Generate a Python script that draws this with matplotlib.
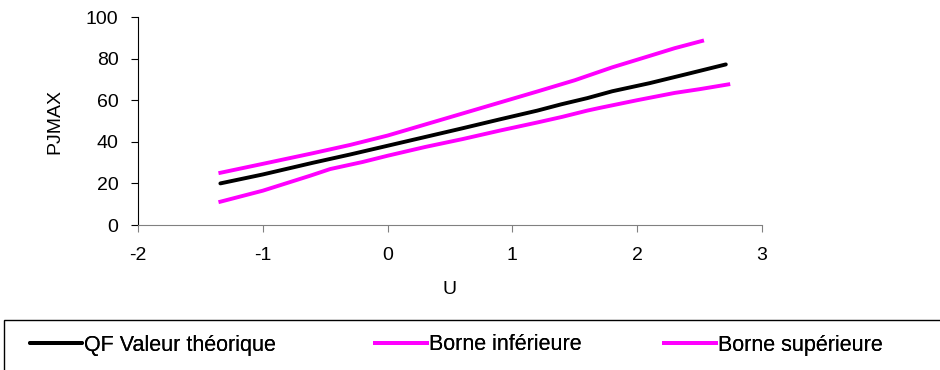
import matplotlib
matplotlib.use("Agg")
import matplotlib.pyplot as plt
from matplotlib.patches import Rectangle

plt.rcParams['font.family'] = ['Liberation Sans', 'DejaVu Sans']
plt.rcParams['axes.unicode_minus'] = False

# variable réduite U et quantiles
u_theo = [-1.34, -1.0, -0.6, -0.3, 0.0, 0.3, 0.6, 0.9, 1.2, 1.39, 1.6, 1.8, 2.1, 2.4, 2.71]
qf_theo = [20.0, 24.3, 29.9, 33.9, 38.1, 42.3, 46.5, 50.8, 55.0, 58.0, 61.0, 64.3, 68.2, 72.6, 77.2]

u_inf = [-1.34, -1.0, -0.62, -0.46, -0.2, 0.0, 0.3, 0.6, 0.9, 1.2, 1.4, 1.6, 1.7, 2.0, 2.3, 2.5, 2.73]
borne_inf = [11.2, 16.5, 23.7, 26.9, 30.3, 33.3, 37.5, 41.3, 45.4, 49.3, 52.0, 55.0, 56.3, 60.0, 63.5, 65.3, 67.6]

u_sup = [-1.34, -1.0, -0.6, -0.3, 0.0, 0.3, 0.6, 0.9, 1.2, 1.5, 1.8, 2.1, 2.3, 2.52]
borne_sup = [25.1, 29.4, 34.5, 38.5, 43.0, 48.3, 53.6, 58.9, 64.2, 69.6, 75.8, 81.3, 85.0, 88.5]

fig = plt.figure(figsize=(9.4, 3.7), dpi=100)
ax = fig.add_axes([138 / 940, 1 - 225 / 370, 624 / 940, 208 / 370])

l1, = ax.plot(u_theo, qf_theo, color='black', lw=2.8, label='QF Valeur théorique', solid_capstyle='round')
l2, = ax.plot(u_inf, borne_inf, color='#FF00FF', lw=2.8, label='Borne inférieure')
l3, = ax.plot(u_sup, borne_sup, color='#FF00FF', lw=2.8, label='Borne supérieure')

ax.set_xlim(-2, 3)
ax.set_ylim(0, 100)
ax.set_xticks([-2, -1, 0, 1, 2, 3])
ax.set_yticks([0, 20, 40, 60, 80, 100])
ax.spines['top'].set_visible(False)
ax.spines['right'].set_visible(False)
ax.spines['bottom'].set_color('#808080')
ax.spines['left'].set_color('black')
ax.tick_params(axis='x', direction='out', length=5, pad=11, labelsize=14, color='#808080')
ax.tick_params(axis='y', direction='out', length=5, pad=9, labelsize=14)
ax.set_xlabel('U', fontsize=14, labelpad=12)
ax.set_ylabel('PJMAX', fontsize=14, labelpad=16)

# cadre de la légende
fig.add_artist(Rectangle((4 / 940, -0.05), 1.0, (370 - 320) / 370 + 0.05,
                         transform=fig.transFigure, fill=False, edgecolor='black', lw=1))

# une entrée de légende par série, placées le long du cadre
for line, x0 in [(l1, 30), (l2, 375), (l3, 664)]:
    leg = fig.legend(handles=[line], loc='center left', bbox_to_anchor=(x0 / 940, 1 - 345 / 370),
                     frameon=False, fontsize=15.5, handlelength=2.4, handletextpad=0.1,
                     borderpad=0, borderaxespad=0)
    fig.add_artist(leg)

fig.savefig('out.png', dpi=100)
